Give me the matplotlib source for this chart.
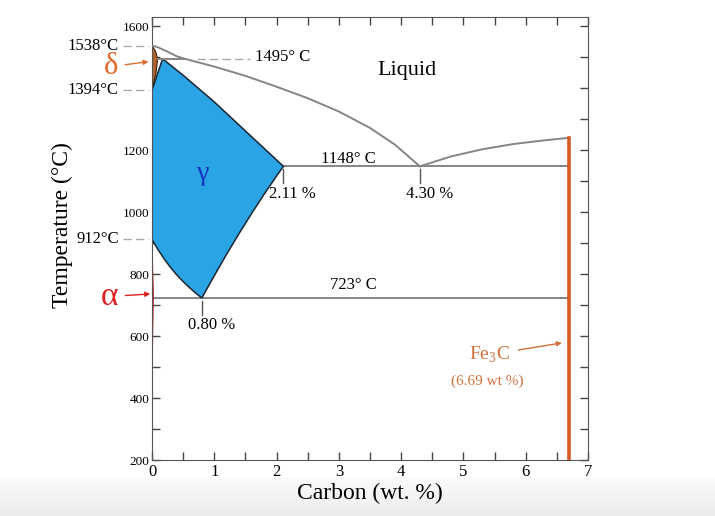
import numpy as np
import matplotlib.pyplot as plt
from matplotlib.ticker import MultipleLocator

plt.rcParams['font.family'] = ['Liberation Serif', 'DejaVu Serif']
plt.rcParams['mathtext.fontset'] = 'custom'
plt.rcParams['mathtext.rm'] = 'Liberation Serif'

# phase boundaries (wt.% C, deg C)
liq_c = [0, 0.1, 0.25, 0.4, 0.53, 1.0, 1.5, 2.0, 2.5, 3.0, 3.5, 3.9, 4.3]
liq_t = [1538, 1532, 1518, 1503, 1495, 1470, 1440, 1405, 1368, 1325, 1272, 1218, 1148]
liq2_c = [4.3, 4.8, 5.3, 5.8, 6.3, 6.69]
liq2_t = [1148, 1180, 1203, 1220, 1232, 1240]

a3_c = [0, 0.1, 0.2, 0.3, 0.4, 0.5, 0.6, 0.7, 0.8]
a3_t = [912, 878, 848, 821, 797, 776, 757, 739, 723]
acm_c = [0.8, 1.0, 1.2, 1.4, 1.6, 1.8, 2.0, 2.11]
acm_t = [723, 795, 865, 932, 996, 1058, 1117, 1148]
sol_c = [2.11, 1.5, 1.0, 0.5, 0.17]
sol_t = [1148, 1262, 1356, 1442, 1495]

delta_c = [0, 0.06, 0.09, 0.065, 0]
delta_t = [1538, 1518, 1495, 1450, 1394]
alpha_c = [0, 0.022, 0.012, 0.004, 0]
alpha_t = [912, 735, 600, 480, 480]

fe3c_c = 6.69
eutectic_t = 1148
eutectoid_t = 723
peritectic_t = 1495

fig = plt.figure(figsize=(7.15, 5.16), dpi=100)

# light grey strip at the bottom of the screenshot
bg = fig.add_axes([0, 0, 1, 0.075], zorder=-5)
shade = np.linspace(0.985, 0.925, 40)
bg.imshow(np.dstack([shade, shade, shade]).reshape(-1, 1, 3), aspect='auto',
          extent=[0, 1, 0, 1])
bg.axis('off')

ax = fig.add_axes([0.2126, 0.1085, 0.6098, 0.8585])

gray = '#858585'
orange = '#d35a22'
# gamma field
gx = [0] + a3_c + acm_c[1:] + sol_c[1:] + [0]
gy = [1394] + a3_t + acm_t[1:] + sol_t[1:] + [1394]
ax.fill(gx, gy, color='#2aa4e4', ec='#1b2430', lw=1.1, zorder=2)
ax.fill(delta_c, delta_t, color='#b0622a', ec='#3a2010', lw=0.8, zorder=2)
ax.fill(alpha_c, alpha_t, color='#d42020', ec='#b01010', lw=0.6, zorder=2)

ax.plot(liq_c, liq_t, color=gray, lw=1.4, zorder=3)
ax.plot(liq2_c, liq2_t, color=gray, lw=1.4, zorder=3)
ax.plot([0.09, 0.53], [peritectic_t] * 2, color=gray, lw=1.4, zorder=3)
ax.plot([0.72, 1.57], [peritectic_t] * 2, color='#aaaaaa', lw=1.0, ls=(0, (6, 3)))
ax.plot([2.11, fe3c_c], [eutectic_t] * 2, color=gray, lw=1.4, zorder=1)
ax.plot([0, fe3c_c], [eutectoid_t] * 2, color=gray, lw=1.4, zorder=1)
ax.plot([fe3c_c, fe3c_c], [200, 1240], color=orange, lw=2.6, zorder=4)

# small composition markers
for c, lab in [(0.8, '0.80 %'), (2.11, '2.11 %'), (4.3, '4.30 %')]:
    t0 = eutectoid_t if c == 0.8 else eutectic_t
    ax.plot([c, c], [t0 - 10, t0 - 55], color='#555555', lw=1.0)
    ax.text(c + 0.15, t0 - 88, lab, ha='center', va='center', fontsize=12)

ax.text(4.1, 1458, 'Liquid', ha='center', va='center', fontsize=16)
ax.text(0.82, 1125, 'γ', ha='center', va='center', fontsize=20, color='#1535c0')
ax.text(3.15, 1172, '1148° C', ha='center', va='center', fontsize=12)
ax.text(3.23, 765, '723° C', ha='center', va='center', fontsize=12)
ax.text(1.65, 1500, '1495° C', ha='left', va='center', fontsize=12)

# labels left of the axis
for t, lab in [(1538, '1538°C'), (1394, '1394°C'), (912, '912°C')]:
    ax.text(-0.076, t, lab, transform=ax.get_yaxis_transform(), ha='right',
            va='center', fontsize=12)
    ax.plot([-0.066, -0.006], [t, t], transform=ax.get_yaxis_transform(),
            color='#aaaaaa', lw=1.0, ls=(0, (6, 3)), clip_on=False)

ax.annotate('δ', xy=(-0.008, 1486), xytext=(-0.094, 1470),
            xycoords=ax.get_yaxis_transform(), textcoords=ax.get_yaxis_transform(),
            ha='center', va='center', fontsize=22, color='#e0692c',
            arrowprops=dict(arrowstyle='-|>', color='#e0692c', lw=1.0,
                            mutation_scale=7, shrinkA=3, shrinkB=0))
ax.annotate('α', xy=(-0.004, 736), xytext=(-0.097, 728),
            xycoords=ax.get_yaxis_transform(), textcoords=ax.get_yaxis_transform(),
            ha='center', va='center', fontsize=24, color='#e02020',
            arrowprops=dict(arrowstyle='-|>', color='#e02020', lw=1.0,
                            mutation_scale=7, shrinkA=3, shrinkB=0))
ax.annotate('Fe$_3$C', xy=(6.58, 578), xytext=(5.42, 540),
            ha='center', va='center', fontsize=14, color='#d0703a',
            arrowprops=dict(arrowstyle='-|>', color='#d0703a', lw=1.0,
                            mutation_scale=7, shrinkA=4, shrinkB=0))
ax.text(5.38, 455, '(6.69 wt %)', ha='center', va='center', fontsize=11,
        color='#d0703a')

ax.set_xlim(0, 7)
ax.set_ylim(200, 1630)
ax.xaxis.set_major_locator(MultipleLocator(1))
ax.xaxis.set_minor_locator(MultipleLocator(0.5))
ax.yaxis.set_major_locator(MultipleLocator(200))
ax.yaxis.set_minor_locator(MultipleLocator(100))
ax.set_yticks([200, 400, 600, 800, 1000, 1200, 1600])
ax.tick_params(which='both', direction='in', top=True, right=True,
               length=6, width=1, color='#444444')
ax.tick_params(axis='x', labelsize=12, pad=3)
ax.tick_params(axis='y', labelsize=9.5, pad=2)
for s in ax.spines.values():
    s.set_color('#555555')

ax.set_xlabel('Carbon (wt. %)', fontsize=17, labelpad=2)
ax.set_ylabel('Temperature (°C)', fontsize=17)
ax.yaxis.set_label_coords(-0.181, 0.53)

fig.savefig('out.png', dpi=100)
